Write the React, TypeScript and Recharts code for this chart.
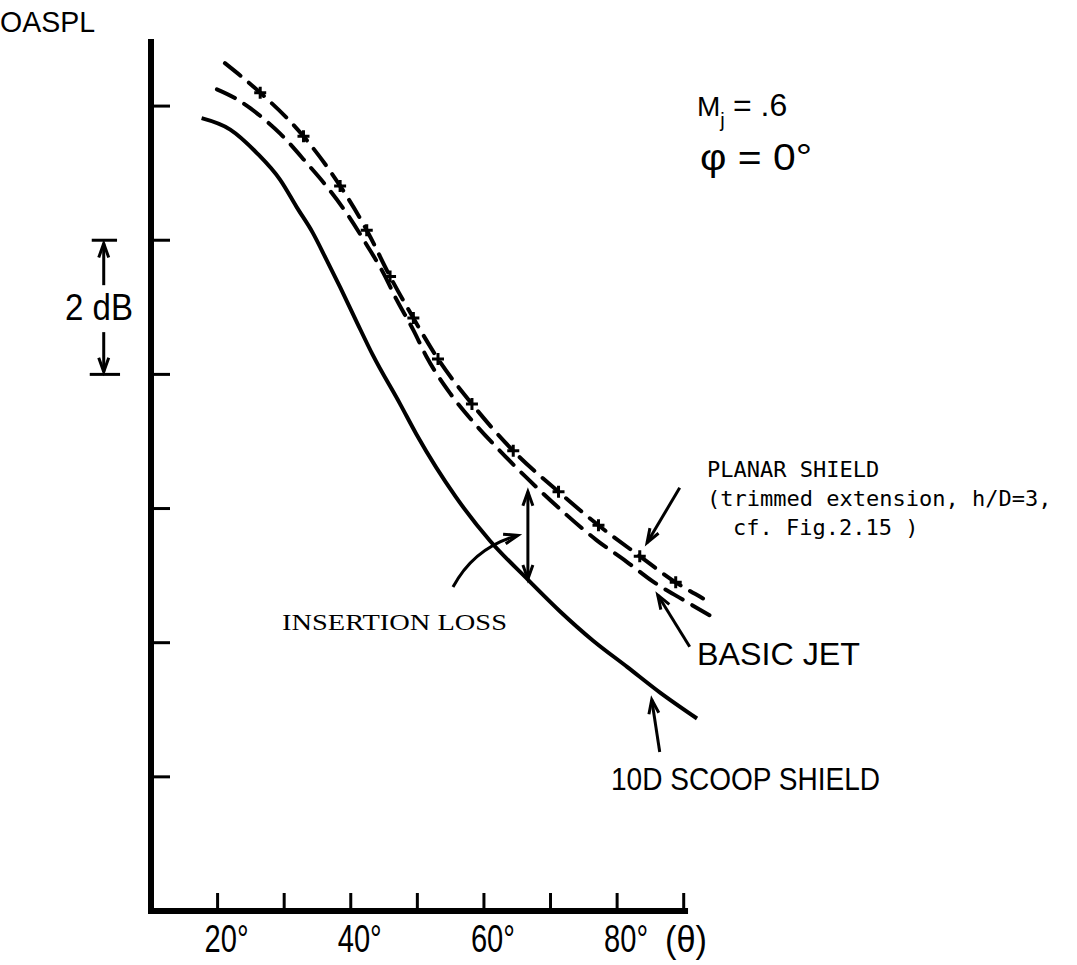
import React from 'react';
import { ComposedChart, Line, XAxis, YAxis, ReferenceLine } from 'recharts';

// ---- axes ----
const thetaTicks = [20, 30, 40, 50, 60, 70, 80, 90];
const thetaTickLabels: Record<number, string> = { 20: '20°', 40: '40°', 60: '60°', 80: '80°' };
const levelTicks = [2, 4, 6, 8, 10, 12];

// ---- 10D scoop shield (solid) ----
const scoopTheta = [17.6, 21.9, 25.9, 29.4, 31.9, 34.3, 36.4, 38.4, 40.9, 43.3, 47.4, 49.9, 55.8, 60.9, 66.6, 71.4, 76.4, 81.5, 86.4, 92.0];
const scoopLevel = [11.82, 11.65, 11.3, 10.9, 10.49, 10.11, 9.7, 9.3, 8.78, 8.29, 7.56, 7.1, 6.17, 5.52, 4.94, 4.47, 4.03, 3.64, 3.26, 2.87];

// ---- basic jet (dashed) ----
const jetTheta = [19.9, 22.6, 24.9, 27.4, 29.4, 33.4, 36.4, 39.4, 42.4, 44.9, 46.9, 49.4, 51.4, 54.9, 58.4, 62.4, 66.4, 71.9, 76.9, 81.4, 85.4, 89.9, 94.4];
const jetLevel = [12.25, 12.12, 11.97, 11.77, 11.59, 11.15, 10.8, 10.4, 9.93, 9.51, 9.11, 8.66, 8.26, 7.72, 7.29, 6.86, 6.46, 5.95, 5.53, 5.21, 4.91, 4.64, 4.38];

// ---- planar shield (dashed with + markers); first and last entries are curve ends ----
const planarTheta = [21.1, 26.4, 32.9, 38.4, 42.4, 45.9, 49.4, 53.1, 58.2, 64.4, 71.2, 77.2, 83.4, 88.8, 92.9];
const planarLevel = [12.64, 12.2, 11.55, 10.81, 10.15, 9.46, 8.84, 8.23, 7.56, 6.86, 6.25, 5.75, 5.29, 4.9, 4.66];

// ---- annotation arrows (theta, level) ----
const planarArrow = [{ x: 89.4, y: 6.31 }, { x: 84.5, y: 5.49 }];
const jetArrow = [{ x: 90.9, y: 3.94 }, { x: 86.1, y: 4.71 }];
const scoopArrow = [{ x: 86.4, y: 2.37 }, { x: 85.2, y: 3.15 }];
const lossArrow = [{ x: 66.6, y: 4.95 }, { x: 66.6, y: 6.25 }];
const lossPointer = [{ x: 55.35, y: 4.83 }, { x: 65.1, y: 5.6 }];
const dbTopBar = [{ x: 1.1, y: 10 }, { x: 4.9, y: 10 }];
const dbBottomBar = [{ x: 0.8, y: 8 }, { x: 5.35, y: 8 }];
const dbUpArrow = [{ x: 2.9, y: 9.33 }, { x: 2.9, y: 9.95 }];
const dbDownArrow = [{ x: 2.9, y: 8.63 }, { x: 2.9, y: 8.04 }];
const xAxisSpan = [{ x: 10, y: 0 }, { x: 90.2, y: 0 }];

const pts = (ts: number[], vs: number[]) => ts.map((t, i) => ({ t, v: vs[i] }));
const scoopData = pts(scoopTheta, scoopLevel);
const jetData = pts(jetTheta, jetLevel);
const planarData = pts(planarTheta, planarLevel);
const planarMarks = planarData.slice(1, -1);

const INK = '#000';
const SANS = '"Liberation Sans", Arial, sans-serif';
const MONO = '"DejaVu Sans Mono", "Liberation Mono", monospace';

const headPath = (x: number, y: number, fx: number, fy: number, len = 14, half = 5) => {
  const dx = x - fx, dy = y - fy;
  const L = Math.hypot(dx, dy) || 1;
  const ux = dx / L, uy = dy / L;
  const bx = x - ux * len, by = y - uy * len;
  const px = -uy * half, py = ux * half;
  return `M${bx + px},${by + py} L${x},${y} L${bx - px},${by - py}`;
};

const ArrowShape = (heads: 'end' | 'both') => (p: any) => {
  const { x1, y1, x2, y2 } = p;
  return (
    <g>
      <line x1={x1} y1={y1} x2={x2} y2={y2} stroke={INK} strokeWidth={3} />
      <path d={headPath(x2, y2, x1, y1)} fill="none" stroke={INK} strokeWidth={3} />
      {heads === 'both' && <path d={headPath(x1, y1, x2, y2)} fill="none" stroke={INK} strokeWidth={3} />}
    </g>
  );
};

const CurvedArrow = (bend: number) => (p: any) => {
  const { x1, y1, x2, y2 } = p;
  const dx = x2 - x1, dy = y2 - y1;
  const L = Math.hypot(dx, dy) || 1;
  const cx = (x1 + x2) / 2 + bend * (-dy / L);
  const cy = (y1 + y2) / 2 + bend * (dx / L);
  return (
    <g>
      <path d={`M${x1},${y1} Q${cx},${cy} ${x2},${y2}`} fill="none" stroke={INK} strokeWidth={3} />
      <path d={headPath(x2, y2, cx, cy)} fill="none" stroke={INK} strokeWidth={3} />
    </g>
  );
};

const BarShape = (w: number, cap: 'butt' | 'square') => (p: any) => (
  <line x1={p.x1} y1={p.y1} x2={p.x2} y2={p.y2} stroke={INK} strokeWidth={w} strokeLinecap={cap} />
);

const XTick = (props: any) => {
  const { x, y, payload } = props;
  const label = thetaTickLabels[payload.value];
  return (
    <g>
      <line x1={x} y1={y} x2={x} y2={y - 18} stroke={INK} strokeWidth={3} />
      {label && (
        <text x={x - 13} y={y + 41} fontSize={38} fontFamily={SANS} textLength={44} lengthAdjust="spacingAndGlyphs" fill={INK}>
          {label}
        </text>
      )}
    </g>
  );
};

const YTick = (props: any) => {
  const { x, y } = props;
  return <line x1={x} y1={y} x2={x + 19} y2={y} stroke={INK} strokeWidth={3} />;
};

const PlusDot = (props: any) => {
  const { cx, cy, index } = props;
  if (cx == null || cy == null) return <g key={`m${index}`} />;
  return (
    <path key={`m${index}`} d={`M${cx - 6},${cy} L${cx + 6},${cy} M${cx},${cy - 6} L${cx},${cy + 6}`} stroke={INK} strokeWidth={3} fill="none" />
  );
};

const T = (p: { x: number; y: number; size: number; len?: number; font?: string; children: React.ReactNode }) => (
  <text
    x={p.x}
    y={p.y}
    fontSize={p.size}
    fontFamily={p.font || SANS}
    fill={INK}
    {...(p.len ? { textLength: p.len, lengthAdjust: 'spacingAndGlyphs' } : {})}
  >
    {p.children}
  </text>
);

export default function App() {
  return (
    <div style={{ position: 'absolute', left: 0, top: 0, width: 1077, height: 965, background: '#fff' }}>
      <ComposedChart width={1077} height={965} margin={{ top: 39, right: 360, bottom: 0, left: 0 }}>
        <XAxis
          type="number"
          dataKey="t"
          domain={[10, 95]}
          ticks={thetaTicks}
          interval={0}
          axisLine={false}
          tickLine={false}
          tickSize={0}
          tickMargin={0}
          height={54}
          tick={XTick}
        />
        <YAxis
          type="number"
          dataKey="v"
          domain={[0, 13]}
          ticks={levelTicks}
          interval={0}
          width={151}
          axisLine={{ stroke: INK, strokeWidth: 6 }}
          tickLine={false}
          tickSize={0}
          tickMargin={0}
          tick={YTick}
        />
        <ReferenceLine segment={xAxisSpan} ifOverflow="visible" shape={BarShape(6, 'square')} />

        <Line data={scoopData} dataKey="v" type="monotone" stroke={INK} strokeWidth={4} dot={false} isAnimationActive={false} />
        <Line data={jetData} dataKey="v" type="monotone" stroke={INK} strokeWidth={4} strokeDasharray="20 11" strokeLinecap="round" dot={false} isAnimationActive={false} />
        <Line data={planarData} dataKey="v" type="monotone" stroke={INK} strokeWidth={4} strokeDasharray="20 11" strokeLinecap="round" dot={false} isAnimationActive={false} />
        <Line data={planarMarks} dataKey="v" stroke="none" dot={PlusDot} isAnimationActive={false} />

        <ReferenceLine segment={lossArrow} ifOverflow="visible" shape={ArrowShape('both')} />
        <ReferenceLine segment={lossPointer} ifOverflow="visible" shape={CurvedArrow(-18)} />
        <ReferenceLine segment={planarArrow} ifOverflow="visible" shape={ArrowShape('end')} />
        <ReferenceLine segment={jetArrow} ifOverflow="visible" shape={ArrowShape('end')} />
        <ReferenceLine segment={scoopArrow} ifOverflow="visible" shape={ArrowShape('end')} />
        <ReferenceLine segment={dbTopBar} ifOverflow="visible" shape={BarShape(3, 'butt')} />
        <ReferenceLine segment={dbBottomBar} ifOverflow="visible" shape={BarShape(3, 'butt')} />
        <ReferenceLine segment={dbUpArrow} ifOverflow="visible" shape={ArrowShape('end')} />
        <ReferenceLine segment={dbDownArrow} ifOverflow="visible" shape={ArrowShape('end')} />
      </ComposedChart>

      <svg width={1077} height={965} style={{ position: 'absolute', left: 0, top: 0, pointerEvents: 'none' }}>
        <T x={0} y={32} size={30} len={95}>OASPL</T>
        <text x={697} y={116} fontSize={28} fontFamily={SANS} fill={INK}>
          M<tspan dy={11} fontSize={20}>j</tspan>
          <tspan x={733} dy={-11} fontSize={32}>= .6</tspan>
        </text>
        <T x={700} y={170} size={36} len={112}>φ =  0°</T>
        <T x={65} y={320} size={36} len={68}>2 dB</T>
        <T x={707} y={477} size={22} font={MONO}>PLANAR SHIELD</T>
        <T x={707} y={506} size={22} font={MONO}>(trimmed extension, h/D=3,</T>
        <T x={733} y={535} size={22} font={MONO}>cf. Fig.2.15 )</T>
        <T x={697} y={665} size={31} len={163}>BASIC JET</T>
        <T x={282} y={630} size={24} len={225} font={'"Liberation Serif", serif'}>INSERTION  LOSS</T>
        <T x={611} y={790} size={31} len={269}>10D SCOOP SHIELD</T>
        <T x={665} y={952} size={36} len={42}>(θ)</T>
      </svg>
    </div>
  );
}
